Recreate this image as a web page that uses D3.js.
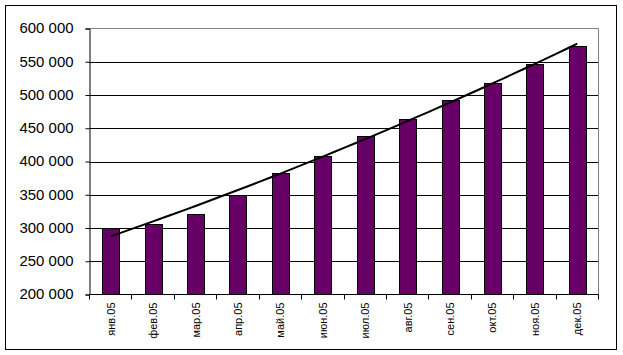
<!DOCTYPE html>
<html>
<head>
<meta charset="utf-8">
<script src="https://cdn.jsdelivr.net/npm/d3@7"></script>
<style>
  html, body { margin: 0; padding: 0; background: #fff; }
  svg { display: block; }
  text { font-family: "Liberation Sans", Arial, sans-serif; fill: #000; }
</style>
</head>
<body>
<svg id="chart" width="623" height="355"></svg>
<script>
const categories = ["янв.05","фев.05","мар.05","апр.05","май.05","июн.05","июл.05","авг.05","сен.05","окт.05","ноя.05","дек.05"];
const values = [300000, 306000, 321000, 350000, 383000, 409000, 439000, 464000, 493000, 518000, 546000, 573000];
const yTicks = [200000, 250000, 300000, 350000, 400000, 450000, 500000, 550000, 600000];

const svg = d3.select("#chart");
const W = 623, H = 355;
const plot = { left: 89.5, right: 598.5, top: 28.5, bottom: 294.5 };

// outer chart border
svg.append("rect").attr("x", 5.5).attr("y", 5.5).attr("width", 611).attr("height", 344)
  .attr("fill", "#fff").attr("stroke", "#000").attr("stroke-width", 1);

const x = d3.scaleBand().domain(categories).range([plot.left, plot.right])
  .paddingInner(0.6).paddingOuter(0.3);
const y = d3.scaleLinear().domain([200000, 600000]).range([plot.bottom, plot.top]);

const fmt = d3.formatLocale({ decimal: ",", thousands: " ", grouping: [3], currency: ["", ""] }).format(",d");

// gridlines
svg.append("g").selectAll("line").data(yTicks.filter(d => d > 200000 && d < 600000)).join("line")
  .attr("x1", plot.left).attr("x2", plot.right)
  .attr("y1", d => Math.round(y(d)) + 0.5).attr("y2", d => Math.round(y(d)) + 0.5)
  .attr("stroke", "#000").attr("stroke-width", 1);

// plot frame top/right (gray)
svg.append("path")
  .attr("d", `M${plot.left},${plot.top}H${plot.right}V${plot.bottom}`)
  .attr("fill", "none").attr("stroke", "#808080").attr("stroke-width", 1);

// bars
svg.append("g").selectAll("rect").data(values).join("rect")
  .attr("x", (d, i) => Math.round(x(categories[i])) + 0.5)
  .attr("width", Math.round(x.bandwidth()))
  .attr("y", d => Math.round(y(d)) + 0.5)
  .attr("height", d => plot.bottom - Math.round(y(d)) - 0.5)
  .attr("fill", "#660066").attr("stroke", "#000").attr("stroke-width", 1);

// y axis
const yAxis = d3.axisLeft(y).tickValues(yTicks).tickSize(4).tickPadding(12).tickFormat(fmt);
const gy = svg.append("g").attr("transform", `translate(${plot.left},0)`).call(yAxis);
gy.select(".domain").attr("stroke", "#000");
gy.selectAll(".tick line").attr("stroke", "#000");
gy.selectAll(".tick text").attr("font-size", 14)
  .attr("font-family", '"Liberation Sans", Arial, sans-serif')
  .attr("textLength", 54).attr("lengthAdjust", "spacingAndGlyphs")
  .attr("fill", "#000");

// x axis
const step = x.step();
const gx = svg.append("g").attr("transform", `translate(0,${plot.bottom})`);
gx.append("line").attr("x1", plot.left).attr("x2", plot.right).attr("stroke", "#000");
gx.selectAll("line.tk").data(d3.range(categories.length + 1)).join("line").attr("class", "tk")
  .attr("x1", i => Math.round(plot.left + i * step - 0.5) + 0.5)
  .attr("x2", i => Math.round(plot.left + i * step - 0.5) + 0.5)
  .attr("y1", 0).attr("y2", 5).attr("stroke", "#000");
gx.selectAll("text").data(categories).join("text")
  .attr("transform", d => `translate(${x(d) + x.bandwidth() / 2 + 4},8) rotate(-90)`)
  .attr("text-anchor", "end")
  .attr("font-size", 11)
  .text(d => d);

// polynomial (order 2) trendline via least squares
const n = values.length;
const xs = d3.range(1, n + 1);
function polyFit(xv, yv) {
  let S = [0,0,0,0,0], T = [0,0,0];
  xv.forEach((xi, k) => {
    for (let p = 0; p < 5; p++) S[p] += Math.pow(xi, p);
    for (let p = 0; p < 3; p++) T[p] += Math.pow(xi, p) * yv[k];
  });
  const A = [[S[0],S[1],S[2],T[0]],[S[1],S[2],S[3],T[1]],[S[2],S[3],S[4],T[2]]];
  for (let i = 0; i < 3; i++) {
    for (let j = i + 1; j < 3; j++) {
      const f = A[j][i] / A[i][i];
      for (let k = i; k < 4; k++) A[j][k] -= f * A[i][k];
    }
  }
  const c = [0,0,0];
  for (let i = 2; i >= 0; i--) {
    let s = A[i][3];
    for (let k = i + 1; k < 3; k++) s -= A[i][k] * c[k];
    c[i] = s / A[i][i];
  }
  return c;
}
const c = polyFit(xs, values);
const cx0 = x(categories[0]) + x.bandwidth() / 2;
const trendPts = d3.range(0, 11.0001, 0.25).map(t => {
  const xv = t + 1;
  return [cx0 + t * step, y(c[0] + c[1] * xv + c[2] * xv * xv)];
});
svg.append("path").attr("d", d3.line()(trendPts))
  .attr("fill", "none").attr("stroke", "#000").attr("stroke-width", 2);
</script>
</body>
</html>
